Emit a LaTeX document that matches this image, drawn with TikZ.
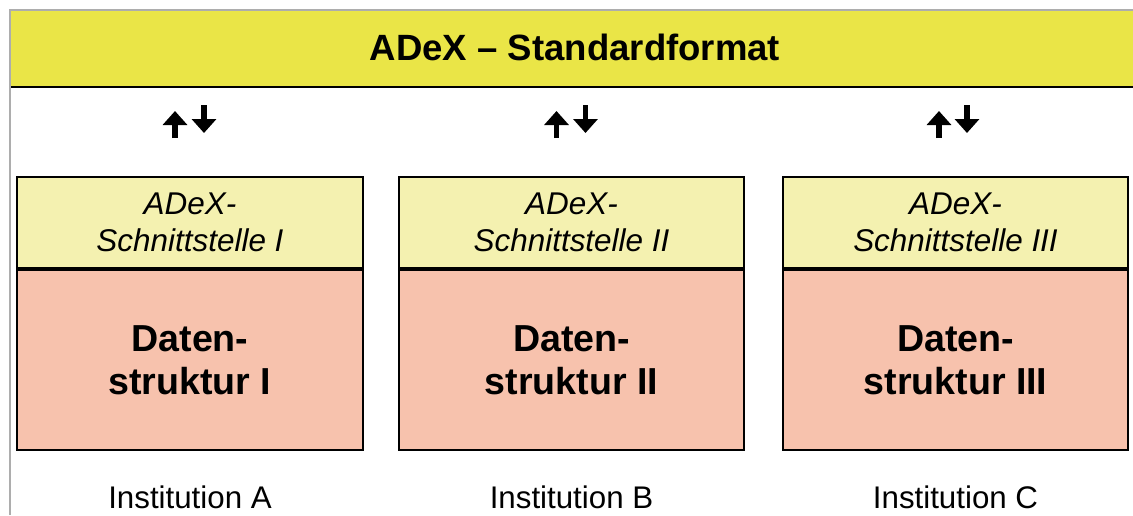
\documentclass[tikz,border=0pt]{standalone}
\usepackage{fontspec}
\setmainfont{Liberation Sans}
\usetikzlibrary{arrows.meta}
\definecolor{bannergelb}{HTML}{EAE547}
\definecolor{schnittgelb}{HTML}{F4F1B0}
\definecolor{datenrot}{HTML}{F7C2AD}
\definecolor{rahmengrau}{HTML}{ADADAD}
\tikzset{
  schnitt/.style={draw=black, line width=0.4mm, fill=schnittgelb, minimum width=6.92cm, minimum height=1.82cm, align=center, inner sep=0pt, font=\fontsize{17.9}{21}\selectfont\itshape},
  daten/.style={draw=black, line width=0.4mm, fill=datenrot, minimum width=6.92cm, minimum height=3.6cm, align=center, inner sep=0pt, font=\fontsize{21.4}{24.4}\selectfont\bfseries},
  inst/.style={anchor=base, inner sep=0pt, font=\fontsize{17.8}{20}\selectfont},
  pfeil/.style={line width=1.1mm, -{Triangle[width=4.8mm,length=2.8mm]}}
}

\begin{document}
\begin{tikzpicture}[x=0.02cm, y=-0.02cm]
			%%%%% START %%%%%
			
			\useasboundingbox (0, 0) rectangle (1133, 515);
			
			\fill[bannergelb] (11, 11) rectangle (1133, 87);
			\draw[line width=0.4mm] (11, 87) -- (1133, 87);
			\draw[line width=0.4mm, color=rahmengrau] (10, 515) -- (10, 10) -- (1133, 10);
			\node[anchor=base, inner sep=0pt, font=\fontsize{20.8}{24}\selectfont\bfseries] (titel) at (575, 60) {ADeX -- Standardformat};
			
			\node[schnitt] (schnitt1) at (190, 222.5) {ADeX-\\Schnittstelle I};
			\node[daten, anchor=north] (daten1) at (schnitt1.south) {Daten-\\struktur I};
			\node[inst] (inst1) at (190, 508) {Institution A};
			
			\node[schnitt] (schnitt2) at (571.5, 222.5) {ADeX-\\Schnittstelle II};
			\node[daten, anchor=north] (daten2) at (schnitt2.south) {Daten-\\struktur II};
			\node[inst] (inst2) at (571.5, 508) {Institution B};
			
			\node[schnitt] (schnitt3) at (955.5, 222.5) {ADeX-\\Schnittstelle III};
			\node[daten, anchor=north] (daten3) at (schnitt3.south) {Daten-\\struktur III};
			\node[inst] (inst3) at (955.5, 508) {Institution C};
			
			% Pfeile zwischen Standardformat und Schnittstellen
			\coordinate (hoch1a) at (175, 138);
			\coordinate (hoch1b) at (175, 111);
			\coordinate (runter1a) at (204, 105);
			\coordinate (runter1b) at (204, 133);
			\draw[pfeil] (hoch1a) -- (hoch1b);
			\draw[pfeil] (runter1a) -- (runter1b);
			
			\coordinate (hoch2a) at (556.5, 138);
			\coordinate (hoch2b) at (556.5, 111);
			\coordinate (runter2a) at (585.5, 105);
			\coordinate (runter2b) at (585.5, 133);
			\draw[pfeil] (hoch2a) -- (hoch2b);
			\draw[pfeil] (runter2a) -- (runter2b);
			
			\coordinate (hoch3a) at (939, 138);
			\coordinate (hoch3b) at (939, 111);
			\coordinate (runter3a) at (967, 105);
			\coordinate (runter3b) at (967, 133);
			\draw[pfeil] (hoch3a) -- (hoch3b);
			\draw[pfeil] (runter3a) -- (runter3b);
			
			%%%%% END %%%%%
		\end{tikzpicture}
\end{document}
